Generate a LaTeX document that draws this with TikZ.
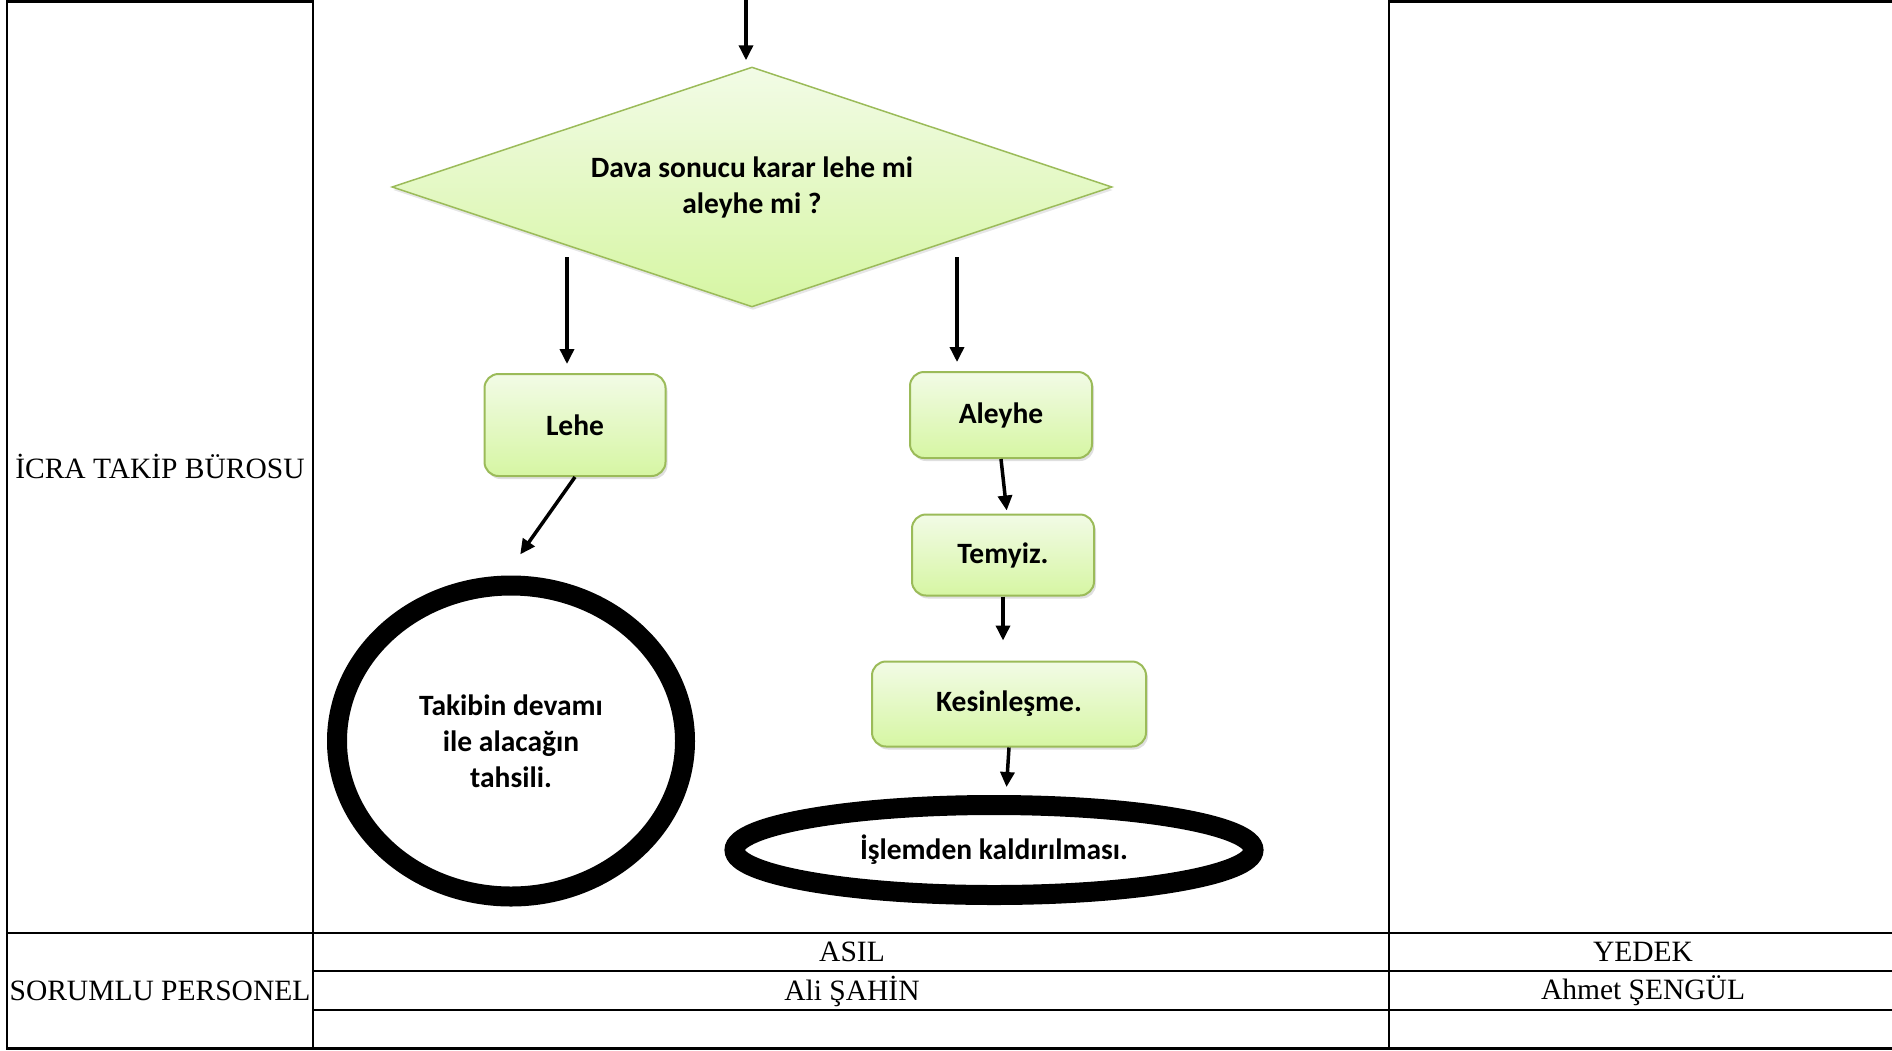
\documentclass[tikz,border=0pt]{standalone}
\usepackage{fontspec}
\setmainfont{Liberation Serif}
\newfontfamily\calibri{Carlito}
\usepackage{tikz}
\usetikzlibrary{arrows.meta, shapes, shadows}

\definecolor{boxline}{RGB}{155,187,89}
\definecolor{boxtop}{RGB}{242,251,230}
\definecolor{boxbottom}{RGB}{214,246,163}

\begin{document}
\begin{tikzpicture}[x=1pt, y=-1pt,
  karar/.style={diamond, aspect=3, draw=boxline, line width=1.5pt,
    top color=boxtop, bottom color=boxbottom, inner sep=0pt,
    drop shadow={opacity=0.2, shadow xshift=1pt, shadow yshift=-3pt},
    minimum width=720pt, minimum height=240pt, align=center,
    font=\calibri\bfseries\fontsize{29.5}{36}\selectfont},
  %
  islem/.style={rectangle, rounded corners=14pt, draw=boxline, line width=2pt,
    top color=boxtop, bottom color=boxbottom, inner sep=0pt,
    drop shadow={opacity=0.25, shadow xshift=2pt, shadow yshift=-3pt},
    align=center, font=\calibri\bfseries\fontsize{29.5}{36}\selectfont},
  %
  son/.style={ellipse, draw=black, fill=white, inner sep=0pt, align=center,
    font=\calibri\bfseries\fontsize{29.5}{36}\selectfont},
  %
  baslik/.style={font=\fontsize{29.5}{34}\selectfont, inner sep=0pt},
  %
  ok/.style={-{Triangle[length=15pt,width=14pt]}, line width=3.5pt},
  %
  tablo/.style={line width=2.5pt}
  ]

  \useasboundingbox (0,0) rectangle (1892,1050);

  \begin{scope}
    %%%%%%%%%%%%%%%%%%%%%%%%%%%%%%%
    \draw [tablo] (313,1.5) -- (7,1.5) -- (7,1048.5) -- (1892,1048.5);
    \draw [tablo] (1389,1.5) -- (1892,1.5);
    \draw [tablo] (313,0) -- (313,1048.5);
    \draw [tablo] (1389,0) -- (1389,1048.5);
    \draw [tablo] (7,933) -- (1892,933);
    \draw [tablo] (313,971) -- (1892,971);
    \draw [tablo] (313,1010) -- (1892,1010);
    %%%%%%%%%%%%%%%%%%%%%%%%%%%%%%%
    \node [baslik] (birim) at (160,466) {İCRA TAKİP BÜROSU};
    \node [baslik] (sorumlu) at (160,991) {SORUMLU PERSONEL};
    \node [baslik] (asil) at (852,952) {ASIL};
    \node [baslik] (yedek) at (1643,952) {YEDEK};
    \node [baslik] (asilad) at (852,991) {Ali ŞAHİN};
    \node [baslik] (yedekad) at (1643,991) {Ahmet ŞENGÜL};
  \end{scope}

  \begin{scope}
    \node [karar] (dava) at (752,187) {Dava sonucu karar lehe mi\\aleyhe mi ?};
    \node [islem, minimum width=181pt, minimum height=102pt] (lehe) at (575,425) {Lehe};
    \node [islem, minimum width=182pt, minimum height=86pt] (aleyhe) at (1001,415) {Aleyhe};
    \node [islem, minimum width=182pt, minimum height=81pt] (temyiz) at (1003,555) {Temyiz.};
    \node [islem, minimum width=274pt, minimum height=85pt] (kesin) at (1009,704) {Kesinleşme.};
    \node [son, line width=20pt, minimum width=348pt, minimum height=311pt] (takip) at (511,741)
      {Takibin devamı\\ile alacağın\\tahsili.};
    \node [son, line width=20pt, minimum width=519pt, minimum height=90pt] (kaldir) at (994,850)
      {İşlemden kaldırılması.};
  \end{scope}

  \begin{scope}
    \coordinate (giris) at (746,0);
    \coordinate (lehecik) at (567,257);
    \coordinate (aleyhecik) at (957,257);
    \draw [ok, shorten >=6pt] (giris) -- (giris |- dava.north);
    \draw [ok, shorten >=9pt] (lehecik) -- (lehecik |- lehe.north);
    \draw [ok, shorten >=9pt] (aleyhecik) -- (aleyhecik |- aleyhe.north);
    \draw [ok, shorten >=26pt] (lehe.south) -- (takip.92);
    \draw [ok, shorten >=3pt] (aleyhe.south) -- ([xshift=4pt]temyiz.north);
    \draw [ok, shorten >=20pt] (temyiz.south) -- (temyiz.south |- kesin.north);
    \draw [ok, shorten >=8pt] (kesin.south) -- ([xshift=-3pt]kesin.south |- kaldir.north);
  \end{scope}

\end{tikzpicture}
\end{document}
